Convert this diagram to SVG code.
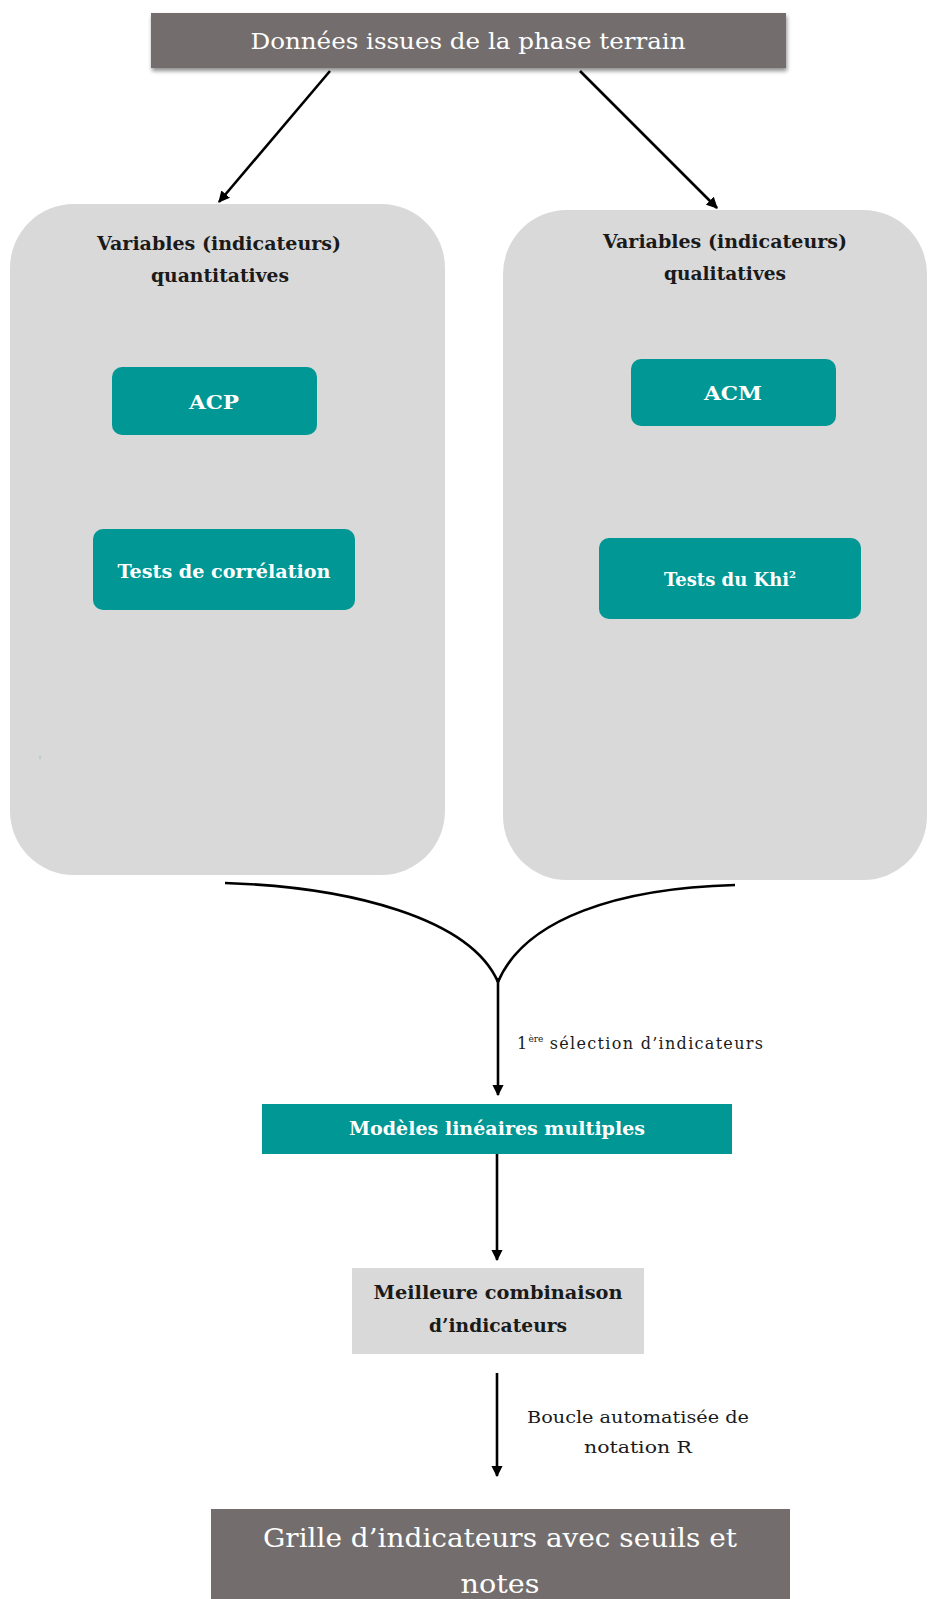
<svg xmlns="http://www.w3.org/2000/svg" width="928" height="1599" viewBox="0 0 928 1599">
<defs>
<marker id="ah" viewBox="0 0 10 10" refX="9" refY="5" markerWidth="4.4" markerHeight="4.4" orient="auto" markerUnits="strokeWidth">
<path d="M0,0 L10,5 L0,10 z" fill="#000"/>
</marker>
<filter id="sh" x="-5%" y="-20%" width="110%" height="150%">
<feGaussianBlur in="SourceAlpha" stdDeviation="2"/>
<feOffset dx="1" dy="3" result="b"/>
<feComponentTransfer><feFuncA type="linear" slope="0.45"/></feComponentTransfer>
<feMerge><feMergeNode/><feMergeNode in="SourceGraphic"/></feMerge>
</filter>
<style>
text{font-family:"DejaVu Serif","Liberation Serif",serif;text-anchor:middle}
text.start{text-anchor:start}
.dark{fill:#736e6d}
.panel{fill:#d9d9d9}
.teal{fill:#009794}
.wt{fill:#ffffff}
.wb{fill:#ffffff;font-weight:bold;font-size:18px}
.bt{fill:#1a1a1a;font-weight:bold;font-size:18px}
.lbl{fill:#1a1a1a;font-size:16px}
.conn{stroke:#000;stroke-width:2.6;fill:none}
</style>
</defs>
<rect width="928" height="1599" fill="#fff"/>

<g id="n-donnees">
<rect class="dark" x="151" y="13" width="635" height="55" filter="url(#sh)"/>
<text class="wt" x="468" y="49" font-size="22" textLength="435" lengthAdjust="spacingAndGlyphs">Données issues de la phase terrain</text>
</g>

<g id="n-quanti">
<rect class="panel" x="10" y="204" width="435" height="671" rx="64"/>
<text class="bt" x="219" y="250" textLength="244" lengthAdjust="spacingAndGlyphs">Variables (indicateurs)</text>
<text class="bt" x="220" y="282" textLength="138" lengthAdjust="spacingAndGlyphs">quantitatives</text>
<text x="40" y="759" font-size="7" fill="#888">:</text>
</g>

<g id="n-quali">
<rect class="panel" x="503" y="210" width="424" height="670" rx="64"/>
<text class="bt" x="725" y="248" textLength="244" lengthAdjust="spacingAndGlyphs">Variables (indicateurs)</text>
<text class="bt" x="725" y="280" textLength="122" lengthAdjust="spacingAndGlyphs">qualitatives</text>
</g>

<g id="n-acp">
<rect class="teal" x="112" y="367" width="205" height="68" rx="10"/>
<text class="wb" x="214" y="409" textLength="50" lengthAdjust="spacingAndGlyphs">ACP</text>
</g>

<g id="n-tests-corr">
<rect class="teal" x="93" y="529" width="262" height="81" rx="10"/>
<text class="wb" x="224" y="578" textLength="213" lengthAdjust="spacingAndGlyphs">Tests de corrélation</text>
</g>

<g id="n-acm">
<rect class="teal" x="631" y="359" width="205" height="67" rx="10"/>
<text class="wb" x="733" y="400" textLength="58" lengthAdjust="spacingAndGlyphs">ACM</text>
</g>

<g id="n-tests-khi">
<rect class="teal" x="599" y="538" width="262" height="81" rx="10"/>
<text class="wb" x="730" y="586" font-size="19">Tests du Khi<tspan font-size="10" dy="-8">2</tspan></text>
</g>

<g id="n-modeles">
<rect class="teal" x="262" y="1104" width="470" height="50"/>
<text class="wb" x="497" y="1135" textLength="296" lengthAdjust="spacingAndGlyphs">Modèles linéaires multiples</text>
</g>

<g id="n-meilleure">
<rect class="panel" x="352" y="1268" width="292" height="86"/>
<text class="bt" x="498" y="1299" textLength="249" lengthAdjust="spacingAndGlyphs">Meilleure combinaison</text>
<text class="bt" x="498" y="1332" textLength="138" lengthAdjust="spacingAndGlyphs">d’indicateurs</text>
</g>

<g id="n-grille">
<rect class="dark" x="211" y="1509" width="579" height="95"/>
<text class="wt" x="500" y="1547" font-size="26" textLength="474" lengthAdjust="spacingAndGlyphs">Grille d’indicateurs avec seuils et</text>
<text class="wt" x="500" y="1593" font-size="26" textLength="79" lengthAdjust="spacingAndGlyphs">notes</text>
</g>

<g id="connectors">
<line class="conn" x1="330" y1="71" x2="219" y2="202" marker-end="url(#ah)"/>
<line class="conn" x1="580" y1="71" x2="717" y2="208" marker-end="url(#ah)"/>
<path class="conn" stroke-width="3" d="M225,883 C350,887 470,918 498,982"/>
<path class="conn" stroke-width="3" d="M735,885 C620,888 525,918 498,982"/>
<line class="conn" x1="498" y1="978" x2="498" y2="1095" stroke-width="3.6" marker-end="url(#ah)"/>
<line class="conn" x1="497" y1="1154" x2="497" y2="1260" marker-end="url(#ah)"/>
<line class="conn" x1="497" y1="1373" x2="497" y2="1476" marker-end="url(#ah)"/>
<text class="lbl start" x="517" y="1049" font-size="17" letter-spacing="1.3">1<tspan font-size="9" dy="-7" letter-spacing="0">ère</tspan><tspan dy="7"> sélection d’indicateurs</tspan></text>
<text class="lbl" x="638" y="1423" textLength="222" lengthAdjust="spacingAndGlyphs">Boucle automatisée de</text>
<text class="lbl" x="638" y="1453" textLength="108" lengthAdjust="spacingAndGlyphs">notation R</text>
</g>
</svg>
